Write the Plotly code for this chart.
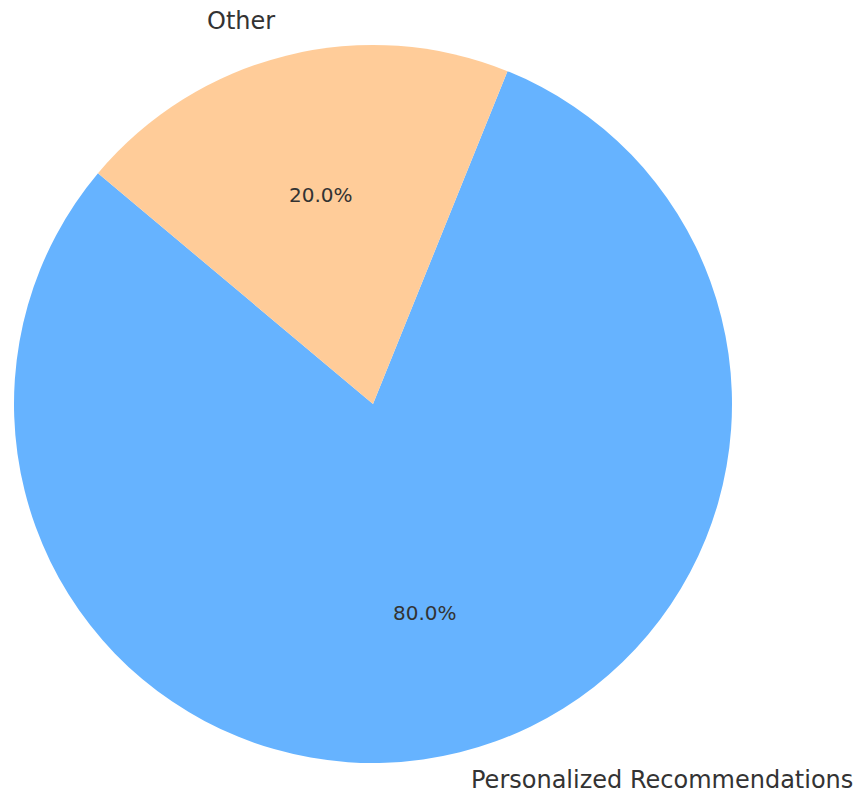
import math
import plotly.graph_objects as go

labels = ["Personalized Recommendations", "Other"]
values = [80, 20]
colors = ["#66b3ff", "#ffcc99"]
start_angle = 140  # degrees, counterclockwise from 3 o'clock (matplotlib convention)

W, H = 857, 796
L, T, SIZE = 14, 45, 718
R = W - L - SIZE
B = H - T - SIZE

total = sum(values)
first_end = start_angle + 360.0 * values[0] / total

fig = go.Figure(go.Pie(
    labels=labels,
    values=values,
    sort=False,
    direction="counterclockwise",
    rotation=(90 - first_end) % 360,
    marker=dict(colors=colors, line=dict(width=0)),
    textinfo="none",
    hoverinfo="skip",
    showlegend=False,
    domain=dict(x=[0, 1], y=[0, 1]),
))

annotations = []
theta = start_angle
for lab, val in zip(labels, values):
    span = 360.0 * val / total
    mid = math.radians(theta + span / 2)
    c, s = math.cos(mid), math.sin(mid)
    annotations.append(dict(
        x=0.5 + 0.5 * 1.1 * c, y=0.5 + 0.5 * 1.1 * s,
        xref="paper", yref="paper", text=lab, showarrow=False,
        xanchor="left" if c > 0 else "right", yanchor="middle",
        yshift=7 if s < 0 else 0,
        font=dict(family="DejaVu Sans", size=24, color="#333333"),
    ))
    annotations.append(dict(
        x=0.5 + 0.5 * 0.6 * c, y=0.5 + 0.5 * 0.6 * s,
        xref="paper", yref="paper", text=f"{100.0 * val / total:.1f}%", showarrow=False,
        xanchor="center", yanchor="middle",
        font=dict(family="DejaVu Sans", size=20, color="#333333"),
    ))
    theta += span

fig.update_layout(
    width=W, height=H,
    margin=dict(l=L, r=R, t=T, b=B, autoexpand=False),
    paper_bgcolor="white", plot_bgcolor="white",
    annotations=annotations,
)

fig.write_html(
    "out.html",
    config={"displayModeBar": False},
    post_script="document.body.style.margin='0';document.body.style.overflow='hidden';",
)
